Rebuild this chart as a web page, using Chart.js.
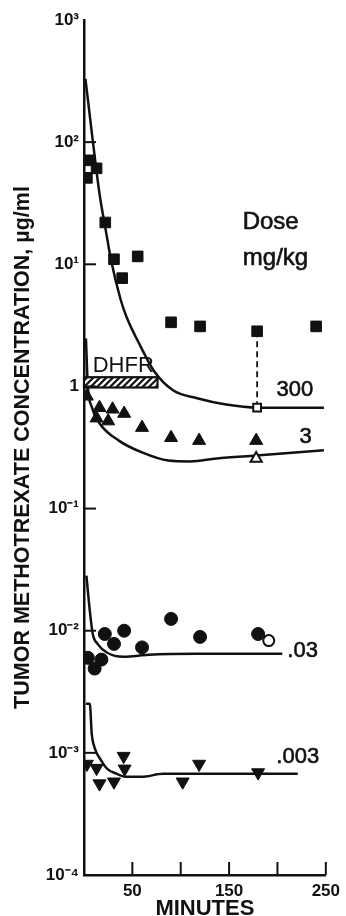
<!DOCTYPE html>
<html>
<head>
<meta charset="utf-8">
<script src="https://cdn.jsdelivr.net/npm/chart.js@4.4.0/dist/chart.umd.min.js"></script>
<style>
  html, body { margin: 0; padding: 0; background: #fff; }
  canvas { display: block; }
</style>
</head>
<body>
<canvas id="myChart" width="346" height="916"></canvas>
<script>
// time axis (minutes) and tick labels
const xTickValues = [50, 100, 150, 200, 250];
const xTickLabels = ['50', '', '150', '', '250'];
const yTickValues = [1e-4, 1e-3, 1e-2, 1e-1, 1, 1e1, 1e2, 1e3];
const yTickLabels = ['10\u207B\u2074', '10\u207B\u00B3', '10\u207B\u00B2', '10\u207B\u00B9', '1', '10\u00B9', '10\u00B2', '10\u00B3'];

// 300 mg/kg
const sq300T = [3, 6, 13, 22, 31, 39.5, 55.5, 90, 120, 179, 240];
const sq300C = [51, 71, 61, 22, 11, 7.7, 11.6, 3.35, 3.1, 2.83, 3.1];
const openSq300T = [179];
const openSq300C = [0.67];
const curve300T = [1.5, 9, 16, 23, 28, 38, 44, 59, 72, 92, 117, 147, 179, 248];
const curve300C = [330, 104, 38, 18, 10.8, 5.1, 3.7, 2.09, 1.35, 0.93, 0.80, 0.71, 0.67, 0.67];
const dropT = [179, 179];
const dropC = [2.83, 0.67];

// 3 mg/kg
const tri3T = [3, 13, 16, 25, 29.5, 41.5, 60, 90, 119, 178];
const tri3C = [0.83, 0.55, 0.67, 0.52, 0.65, 0.60, 0.46, 0.38, 0.36, 0.36];
const openTri3T = [178];
const openTri3C = [0.257];
const curve3T = [2, 4, 8, 16, 36, 60, 87, 110, 137, 178, 248];
const curve3C = [2.47, 1.0, 0.68, 0.50, 0.36, 0.288, 0.247, 0.243, 0.257, 0.272, 0.30];

// .03 mg/kg
const circ03T = [4, 11, 18, 21.5, 31, 41.5, 60, 90, 120, 180];
const circ03C = [0.0060, 0.0049, 0.0058, 0.0094, 0.0078, 0.0100, 0.0073, 0.0125, 0.0089, 0.0094];
const openCirc03T = [191];
const openCirc03C = [0.0083];
const curve03T = [2.5, 6, 9, 14, 24, 41, 67, 117, 205];
const curve03C = [0.0282, 0.0146, 0.00944, 0.0078, 0.0066, 0.00612, 0.00636, 0.00648, 0.00648];

// .003 mg/kg
const tri003T = [3, 13, 16, 31, 41, 42, 102, 119, 180];
const tri003C = [0.00081, 0.00075, 0.00056, 0.00058, 0.00094, 0.00074, 0.00058, 0.00081, 0.00069];
const curve003T = [2, 6, 8, 11, 18, 24, 34, 44, 59, 82, 117, 160, 221];
const curve003C = [0.00252, 0.00252, 0.00143, 0.0011, 0.00086, 0.00074, 0.000673, 0.000636, 0.000636, 0.000673, 0.000673, 0.000673, 0.000673];

// DHFR band
const dhfrT = [0, 76];
const dhfrC = [0.98, 1.19];

const ink = '#111';
const fontFamily = '"Liberation Sans", Arial, sans-serif';
const pts = (xs, ys) => xs.map((x, i) => ({ x: x, y: ys[i] }));

const curve = (xs, ys) => ({
    data: pts(xs, ys),
    showLine: true,
    pointRadius: 0,
    borderColor: ink,
    borderWidth: 2.5,
    cubicInterpolationMode: 'monotone',
    fill: false
});

const marks = (xs, ys, style, radius, fillColor, rotation) => ({
    data: pts(xs, ys),
    showLine: false,
    pointStyle: style,
    pointRadius: radius,
    pointRotation: rotation || 0,
    pointBackgroundColor: fillColor,
    pointBorderColor: ink,
    pointBorderWidth: fillColor === '#fff' ? 2 : 1
});

const data = {
    datasets: [
        marks(openSq300T, openSq300C, 'rect', 5.5, '#fff'),
        marks(openTri3T, openTri3C, 'triangle', 6.5, '#fff'),
        marks(openCirc03T, openCirc03C, 'circle', 5.5, '#fff'),
        marks(sq300T, sq300C, 'rect', 7.5, ink),
        marks(tri3T, tri3C, 'triangle', 7.5, ink),
        marks(circ03T, circ03C, 'circle', 6.5, ink),
        marks(tri003T, tri003C, 'triangle', 7.5, ink, 180),
        {
            data: pts(dropT, dropC),
            showLine: true,
            pointRadius: 0,
            borderColor: ink,
            borderWidth: 1.8,
            borderDash: [6, 4]
        },
        curve(curve300T, curve300C),
        curve(curve3T, curve3C),
        curve(curve03T, curve03C),
        curve(curve003T, curve003C)
    ]
};

// hatched DHFR bar, inner tick marks and the dose labels
const extras = {
    id: 'extras',
    afterDatasetsDraw(chart) {
        const ctx = chart.ctx;
        const xs = chart.scales.x, ys = chart.scales.y;
        const x0 = xs.getPixelForValue(dhfrT[0]), x1 = xs.getPixelForValue(dhfrT[1]);
        const yt = ys.getPixelForValue(dhfrC[1]), yb = ys.getPixelForValue(dhfrC[0]);
        ctx.save();
        ctx.fillStyle = '#fff';
        ctx.fillRect(x0, yt, x1 - x0, yb - yt);
        ctx.beginPath();
        ctx.rect(x0, yt, x1 - x0, yb - yt);
        ctx.clip();
        ctx.strokeStyle = ink;
        ctx.lineWidth = 2.2;
        for (let x = x0 - 20; x < x1 + 20; x += 6.5) {
            ctx.beginPath();
            ctx.moveTo(x, yb);
            ctx.lineTo(x + (yb - yt), yt);
            ctx.stroke();
        }
        ctx.restore();
        ctx.save();
        ctx.strokeStyle = ink;
        ctx.lineWidth = 2.2;
        ctx.strokeRect(x0, yt, x1 - x0, yb - yt);

        ctx.fillStyle = ink;
        ctx.strokeStyle = ink;
        ctx.lineWidth = 0.6;
        ctx.textAlign = 'center';
        ctx.textBaseline = 'middle';
        const notes = [
            ['Dose', 193, 22.1, '24px'],
            ['mg/kg', 198, 11.2, '24px'],
            ['300', 218, 0.944, '22px'],
            ['3', 229, 0.389, '22px'],
            ['.03', 226, 0.00685, '22px'],
            ['.003', 221, 0.000927, '22px']
        ];
        notes.forEach(n => {
            ctx.font = n[3] + ' ' + fontFamily;
            const px = xs.getPixelForValue(n[1]), py = ys.getPixelForValue(n[2]);
            ctx.fillText(n[0], px, py);
            ctx.strokeText(n[0], px, py);
        });
        ctx.font = '22px ' + fontFamily;
        ctx.textAlign = 'left';
        ctx.fillText('DHFR', xs.getPixelForValue(9), ys.getPixelForValue(1.46));
        ctx.restore();
    },
    afterDraw(chart) {
        const ctx = chart.ctx;
        const xs = chart.scales.x, ys = chart.scales.y;
        const area = chart.chartArea;
        ctx.save();
        ctx.strokeStyle = ink;
        ctx.lineWidth = 2;
        yTickValues.slice(1, -1).forEach(v => {
            const y = ys.getPixelForValue(v);
            ctx.beginPath();
            ctx.moveTo(area.left, y);
            ctx.lineTo(area.left + 12, y);
            ctx.stroke();
        });
        xTickValues.forEach(v => {
            const x = xs.getPixelForValue(v);
            ctx.beginPath();
            ctx.moveTo(x, area.bottom);
            ctx.lineTo(x, area.bottom - 13);
            ctx.stroke();
        });
        ctx.restore();
    }
};

const config = {
    type: 'scatter',
    data: data,
    options: {
        responsive: false,
        animation: false,
        layout: { padding: { top: 20, right: 15, left: 0, bottom: 0 } },
        plugins: {
            legend: { display: false },
            tooltip: { enabled: false }
        },
        scales: {
            x: {
                type: 'linear',
                min: 0,
                max: 250,
                grid: { display: false, drawTicks: false },
                border: { display: true, color: ink, width: 2.5 },
                afterBuildTicks: axis => { axis.ticks = xTickValues.map(v => ({ value: v })); },
                afterFit: axis => { axis.height = 41; },
                ticks: {
                    autoSkip: false,
                    maxRotation: 0,
                    padding: 6,
                    color: ink,
                    font: { family: fontFamily, size: 17, weight: 'bold' },
                    callback: (v, i) => xTickLabels[i]
                },
                title: {
                    display: true,
                    text: 'MINUTES',
                    color: ink,
                    font: { family: fontFamily, size: 22, weight: 'bold', lineHeight: 1 },
                    padding: { top: 0, bottom: -4 }
                }
            },
            y: {
                type: 'logarithmic',
                min: 1e-4,
                max: 1e3,
                grid: { display: false, drawTicks: false },
                border: { display: true, color: ink, width: 2.5 },
                afterBuildTicks: axis => { axis.ticks = yTickValues.map(v => ({ value: v })); },
                afterFit: axis => { axis.width = 84; },
                ticks: {
                    autoSkip: false,
                    padding: 5,
                    color: ink,
                    font: { family: fontFamily, size: 17, weight: 'bold' },
                    callback: (v, i) => yTickLabels[i]
                },
                title: {
                    display: true,
                    text: 'TUMOR METHOTREXATE CONCENTRATION, \u00B5g/ml',
                    color: ink,
                    font: { family: fontFamily, size: 21.5, weight: 'bold', lineHeight: 1 },
                    padding: { top: 12, bottom: 0 }
                }
            }
        }
    },
    plugins: [extras]
};

const myChart = new Chart(document.getElementById('myChart'), config);
</script>
</body>
</html>
